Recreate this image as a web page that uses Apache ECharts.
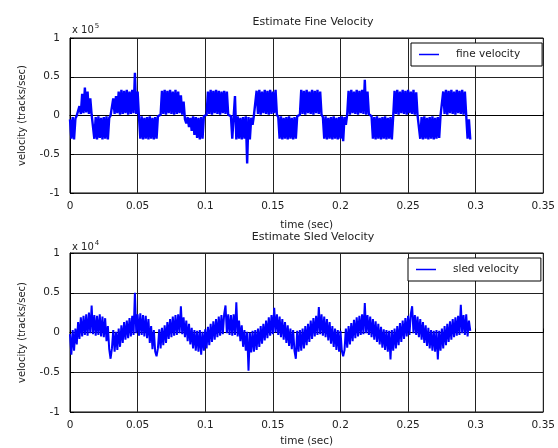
<!DOCTYPE html>
<html>
<head>
<meta charset="utf-8">
<style>
  html, body { margin: 0; padding: 0; background: #fff; }
  #chart { width: 558px; height: 448px; }
</style>
<script src="https://cdn.jsdelivr.net/npm/echarts@6/dist/echarts.min.js"></script>
</head>
<body>
<div id="chart"></div>
<script>
// Sampling interval of the recorded estimates (seconds)
const sampleStep = 0.001;

// Axis tick values shared by both panels
const timeTicks = [0, 0.05, 0.1, 0.15, 0.2, 0.25, 0.3, 0.35];
const velocityTicks = [-1, -0.5, 0, 0.5, 1];

// Estimated fine velocity (x 10^5 tracks/sec), one value per sample
const fineVelocity = [
  -0.05, -0.3, -0.02, -0.31, -0.04,
  0, 0.01,
  0.12, 0.02, 0.28, 0.03, 0.36, 0.04, 0.31, 0.02, 0.22,
  0.01, 0,
  -0.3, -0.02, -0.31, -0.01, -0.29, -0.03, -0.31, -0.02, -0.3, -0.01, -0.31, -0.03,
  0, 0.01,
  0.22, 0.02, 0.25, 0.03, 0.31, 0.01, 0.33, 0.02, 0.32, 0.03, 0.33, 0.01, 0.31, 0.02, 0.33, 0.03, 0.55, 0.02, 0.31,
  -0.02, -0.3, -0.01, -0.31, -0.03, -0.3, -0.02, -0.31, -0.01, -0.3, -0.03, -0.31, -0.02, -0.3, -0.01,
  0, 0.01,
  0.32, 0.02, 0.33, 0.01, 0.32, 0.03, 0.33, 0.02, 0.31, 0.01, 0.33, 0.02, 0.31, 0.03, 0.26, 0.01, 0.18,
  -0.05, -0.1, -0.02, -0.15, -0.03, -0.2, -0.01, -0.25, -0.02, -0.29, -0.03, -0.31, -0.02, -0.3, -0.01,
  0, 0.01,
  0.31, 0.02, 0.33, 0.01, 0.32, 0.03, 0.33, 0.02, 0.32, 0.01, 0.31, 0.03, 0.32, 0.02, 0.31, 0.01,
  0, -0.01,
  -0.3, -0.02, 0.25, -0.31, -0.01, -0.3, -0.03, -0.31, -0.02, -0.3, -0.01, -0.62, -0.02, -0.31, -0.03, -0.12,
  0, 0.01,
  0.32, 0.02, 0.33, 0.01, 0.31, 0.03, 0.33, 0.02, 0.32, 0.01, 0.33, 0.02, 0.31, 0.03, 0.33, 0.01,
  -0.02, -0.3, -0.01, -0.31, -0.03, -0.3, -0.02, -0.31, -0.01, -0.3, -0.03, -0.31, -0.02, -0.3, -0.01,
  0, 0.01,
  0.33, 0.02, 0.32, 0.01, 0.33, 0.03, 0.31, 0.02, 0.33, 0.01, 0.32, 0.03, 0.33, 0.02, 0.31, 0.01,
  -0.02, -0.3, -0.01, -0.31, -0.03, -0.3, -0.02, -0.31, -0.01, -0.3, -0.03, -0.31, -0.02, -0.3, -0.01, -0.33, -0.02, -0.12,
  0.02, 0.32, 0.01, 0.33, 0.03, 0.31, 0.02, 0.33, 0.01, 0.32, 0.03, 0.33, 0.02, 0.46, 0.01, 0.31, 0.02,
  0, -0.01,
  -0.3, -0.02, -0.31, -0.01, -0.3, -0.03, -0.31, -0.02, -0.3, -0.01, -0.31, -0.03, -0.3, -0.02, -0.31, -0.01,
  0.32, 0.02, 0.33, 0.01, 0.31, 0.03, 0.33, 0.02, 0.32, 0.01, 0.33, 0.03, 0.31, 0.02, 0.33, 0.01, 0.3,
  0, 0.01,
  -0.3, -0.02, -0.31, -0.01, -0.3, -0.03, -0.31, -0.02, -0.3, -0.01, -0.31, -0.03, -0.3, -0.02, -0.29,
  0, 0.01,
  0.31, 0.02, 0.33, 0.01, 0.32, 0.03, 0.33, 0.02, 0.31, 0.01, 0.33, 0.03, 0.32, 0.02, 0.33, 0.01, 0.31,
  0, -0.3, -0.05, -0.31
];

// Estimated sled velocity (x 10^4 tracks/sec), one value per sample
const sledVelocity = [
  -0.02, -0.28, 0.03, -0.23, 0.05, -0.15, 0.13, -0.08, 0.19, -0.05,
  0.21, -0.03, 0.23, -0.04, 0.25, -0.01, 0.34, -0.02, 0.22, -0.04,
  0.21, -0.03, 0.23, -0.05, 0.2, -0.06, 0.18, -0.11, 0.08, -0.21,
  -0.33, -0.2, 0.03, -0.24, 0.01, -0.22, 0.05, -0.18, 0.09, -0.13,
  0.13, -0.09, 0.15, -0.07, 0.18, -0.05, 0.21, -0.03, 0.5, -0.01,
  0.23, -0.04, 0.24, -0.03, 0.22, -0.05, 0.21, -0.07, 0.17, -0.13,
  0.08, -0.21, 0.03, -0.24, -0.3, -0.2, 0.04, -0.2, 0.06, -0.16,
  0.09, -0.13, 0.13, -0.08, 0.17, -0.06, 0.2, -0.04, 0.22, -0.03,
  0.23, -0.01, 0.33, -0.02, 0.19, -0.06, 0.15, -0.11, 0.11, -0.15,
  0.06, -0.2, 0.03, -0.23, 0.02, -0.24, 0.03, -0.28, 0.01, -0.23,
  0.04, -0.2, 0.07, -0.16, 0.11, -0.12, 0.14, -0.09, 0.17, -0.06,
  0.2, -0.04, 0.22, -0.02, 0.23, 0.34, -0.01, 0.23, -0.03, 0.22,
  -0.04, 0.23, -0.03, 0.38, -0.05, 0.15, -0.11, 0.09, -0.18, 0.03,
  -0.23, 0.01, -0.48, 0.0, -0.25, 0.02, -0.24, 0.03, -0.22, 0.05,
  -0.18, 0.08, -0.14, 0.11, -0.1, 0.15, -0.07, 0.19, -0.04, 0.22,
  -0.02, 0.31, 0.0, 0.23, -0.03, 0.2, -0.06, 0.17, -0.09, 0.13,
  -0.13, 0.09, -0.17, 0.05, -0.21, 0.03, -0.23, -0.33, 0.02, -0.24,
  0.03, -0.23, 0.05, -0.2, 0.08, -0.16, 0.11, -0.12, 0.15, -0.08,
  0.18, -0.05, 0.21, -0.03, 0.32, -0.02, 0.23, -0.04, 0.2, -0.06,
  0.17, -0.1, 0.13, -0.14, 0.08, -0.18, 0.05, -0.22, 0.03, -0.24,
  0.02, -0.23, -0.3, -0.22, 0.05, -0.19, 0.08, -0.15, 0.12, -0.11,
  0.16, -0.07, 0.19, -0.05, 0.21, -0.03, 0.23, -0.02, 0.37, -0.01,
  0.22, -0.03, 0.2, -0.06, 0.17, -0.09, 0.14, -0.12, 0.11, -0.15,
  0.07, -0.19, 0.04, -0.22, 0.03, -0.24, 0.02, -0.34, 0.03, -0.23,
  0.05, -0.2, 0.08, -0.16, 0.12, -0.12, 0.15, -0.08, 0.18, -0.05,
  0.21, -0.03, 0.23, 0.33, -0.01, 0.22, -0.03, 0.2, -0.06, 0.17,
  -0.09, 0.13, -0.13, 0.09, -0.17, 0.06, -0.2, 0.03, -0.23, 0.02,
  -0.24, 0.03, -0.34, 0.02, -0.23, 0.05, -0.2, 0.08, -0.16, 0.11,
  -0.12, 0.14, -0.09, 0.17, -0.06, 0.19, -0.04, 0.21, -0.03, 0.35,
  -0.01, 0.22, -0.03, 0.23, -0.05, 0.15, 0.02
];

const toPoints = (values) => values.map((v, i) => [i * sampleStep, v]);

const FONT = 'DejaVu Sans';
const INK = '#222';
const plotLeft = 70, plotRight = 12;
const panels = [
  { top: 38, height: 155, title: 'Estimate Fine Velocity', exponent: '5', legend: 'fine velocity', data: fineVelocity, lineWidth: 2.4, titleTop: 12, expTop: 18, xNameGap: 27, legendLeft: 411 },
  { top: 253, height: 160, title: 'Estimate Sled Velocity', exponent: '4', legend: 'sled velocity', data: sledVelocity, lineWidth: 2.0, titleTop: 227, expTop: 235, xNameGap: 24, legendLeft: 408 }
];

const tMin = timeTicks[0], tMax = timeTicks[timeTicks.length - 1], tStep = timeTicks[1] - timeTicks[0];
const vMin = velocityTicks[0], vMax = velocityTicks[velocityTicks.length - 1], vStep = velocityTicks[1] - velocityTicks[0];

const axisLine = { show: true, lineStyle: { color: '#000', width: 1 } };
const gridLine = { show: true, lineStyle: { color: INK, width: 1 } };
const labelStyle = { color: INK, fontFamily: FONT, fontSize: 10.5 };

const option = {
  animation: false,
  backgroundColor: '#fff',
  title: [],
  legend: [],
  grid: [],
  xAxis: [],
  yAxis: [],
  series: []
};

panels.forEach((p, k) => {
  option.grid.push({ left: plotLeft, right: plotRight, top: p.top, height: p.height, show: true, borderColor: '#000', borderWidth: 1, backgroundColor: '#fff' });
  option.title.push({
    text: p.title, left: plotLeft + (558 - plotLeft - plotRight) / 2, top: p.titleTop, textAlign: 'center',
    textStyle: { color: INK, fontFamily: FONT, fontSize: 11, fontWeight: 'normal' }
  });
  option.title.push({
    text: '{a|x 10}{b|' + p.exponent + '}', left: 67, top: p.expTop,
    textStyle: { fontWeight: 'normal', rich: {
      a: { color: INK, fontFamily: FONT, fontSize: 10, fontWeight: 'normal' },
      b: { color: INK, fontFamily: FONT, fontSize: 7, fontWeight: 'normal', verticalAlign: 'top', padding: [0, 0, 8, 1] }
    } }
  });
  option.legend.push({
    data: [p.legend], left: p.legendLeft, top: p.top + 5, orient: 'horizontal',
    backgroundColor: '#fff', borderColor: '#000', borderWidth: 1, borderRadius: 0,
    padding: [6, 22, 6, 8], icon: 'rect', itemWidth: 20, itemHeight: 1.5,
    textStyle: { color: INK, fontFamily: FONT, fontSize: 10.5, padding: [0, 0, 0, 12] }
  });
  option.xAxis.push({
    type: 'value', gridIndex: k, min: tMin, max: tMax, interval: tStep,
    name: 'time (sec)', nameLocation: 'middle', nameGap: p.xNameGap,
    nameTextStyle: { color: INK, fontFamily: FONT, fontSize: 10.5 },
    axisLine: axisLine, axisTick: { show: true, inside: true, length: 4, lineStyle: { color: '#000' } },
    axisLabel: Object.assign({ margin: 8 }, labelStyle), splitLine: gridLine
  });
  option.yAxis.push({
    type: 'value', gridIndex: k, min: vMin, max: vMax, interval: vStep,
    name: 'velocity (tracks/sec)', nameLocation: 'middle', nameGap: 43, nameRotate: 90,
    nameTextStyle: { color: INK, fontFamily: FONT, fontSize: 10 },
    axisLine: axisLine, axisTick: { show: true, inside: true, length: 4, lineStyle: { color: '#000' } },
    axisLabel: Object.assign({ margin: 10 }, labelStyle), splitLine: gridLine
  });
  option.series.push({
    name: p.legend, type: 'line', xAxisIndex: k, yAxisIndex: k,
    data: toPoints(p.data), showSymbol: false, symbol: 'none', sampling: null,
    lineStyle: { color: '#0000ff', width: p.lineWidth, join: 'miter', miterLimit: 1.5 }, itemStyle: { color: '#0000ff' }, z: 3
  });
});

const chart = echarts.init(document.getElementById('chart'), null, { renderer: 'canvas' });
chart.setOption(option);
</script>
</body>
</html>
